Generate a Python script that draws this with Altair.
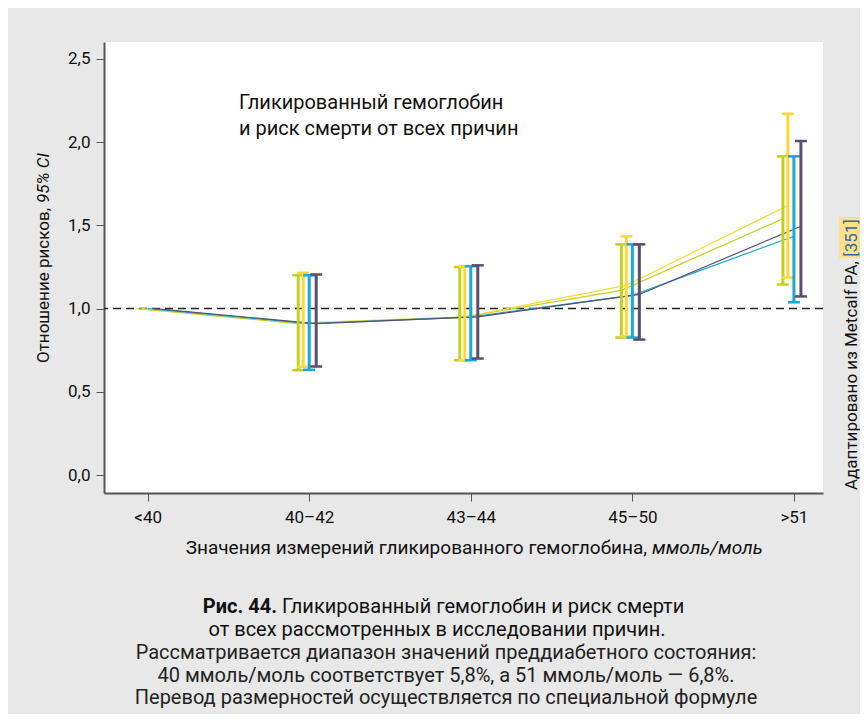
import altair as alt
import pandas as pd

# ---- data ----
categories = ["<40", "40–42", "43–44", "45–50", ">51"]
series_names = ["Серия 1", "Серия 2", "Серия 3", "Серия 4"]

hr_s1 = [1.0, 0.91, 0.945, 1.11, 1.54]
hr_s2 = [1.0, 0.915, 0.95, 1.14, 1.62]
hr_s3 = [1.0, 0.91, 0.95, 1.08, 1.435]
hr_s4 = [1.0, 0.91, 0.95, 1.085, 1.495]

lo_s1 = [None, 0.63, 0.69, 0.826, 1.145]
hi_s1 = [None, 1.20, 1.25, 1.386, 1.915]
lo_s2 = [None, 0.65, 0.69, 0.834, 1.187]
hi_s2 = [None, 1.215, 1.255, 1.434, 2.171]
lo_s3 = [None, 0.632, 0.69, 0.826, 1.038]
hi_s3 = [None, 1.20, 1.255, 1.386, 1.915]
lo_s4 = [None, 0.652, 0.70, 0.814, 1.073]
hi_s4 = [None, 1.205, 1.26, 1.386, 2.007]

y_ticks = [0.0, 0.5, 1.0, 1.5, 2.0, 2.5]

# ---- styling ----
colors = ["#c3d01c", "#fdd835", "#14a9d8", "#5a4e6c"]
offsets = [-11, -6, 0, 7]
FONT = "Roboto"
BG = "#e8e8e8"

rows = []
for name, hr, lo, hi in zip(series_names,
                            [hr_s1, hr_s2, hr_s3, hr_s4],
                            [lo_s1, lo_s2, lo_s3, lo_s4],
                            [hi_s1, hi_s2, hi_s3, hi_s4]):
    for i, c in enumerate(categories):
        rows.append({"idx": i, "cat": c, "series": name,
                     "hr": hr[i], "lo": lo[i], "hi": hi[i]})
df = pd.DataFrame(rows)

label_expr = "[" + ",".join("'" + c + "'" for c in categories) + "][datum.value]"

x_enc = alt.X("idx:Q",
              scale=alt.Scale(domain=[-0.27, 4.18], nice=False, zero=False),
              axis=alt.Axis(values=list(range(len(categories))), labelExpr=label_expr,
                            title=None, grid=False, domainColor="#555", domainWidth=2,
                            tickColor="#555", tickSize=8, labelFont=FONT, labelFontSize=17,
                            labelColor="#111", labelPadding=8))
y_scale = alt.Scale(domain=[-0.108, 2.602], nice=False, zero=False)
y_axis = alt.Axis(values=y_ticks,
                  labelExpr="replace(format(datum.value, '.1f'), '.', ',')",
                  title=None, grid=False, domainColor="#555", domainWidth=2,
                  tickColor="#555", tickSize=8, labelFont=FONT, labelFontSize=17,
                  labelColor="#111", labelPadding=6)

base = alt.Chart(df)

layers = []
# reference line at 1.0
layers.append(
    alt.Chart(pd.DataFrame({"v": [1.0]})).mark_rule(
        color="#222", strokeDash=[8, 5], strokeWidth=1.5
    ).encode(y=alt.Y("v:Q", scale=y_scale, axis=y_axis))
)

for name, col, off in zip(series_names, colors, offsets):
    s = base.transform_filter(alt.datum.series == name)
    layers.append(s.mark_line(color=col, strokeWidth=1.2, xOffset=off).encode(
        x=x_enc, y=alt.Y("hr:Q", scale=y_scale, axis=y_axis)))
for name, col, off in zip(series_names, colors, offsets):
    s = base.transform_filter((alt.datum.series == name) & alt.expr.isValid(alt.datum.lo))
    layers.append(s.mark_rule(color=col, strokeWidth=3, xOffset=off).encode(
        x=x_enc, y=alt.Y("lo:Q", scale=y_scale, axis=y_axis), y2="hi:Q"))
    layers.append(s.mark_tick(color=col, orient="horizontal", size=12, thickness=2.5,
                              xOffset=off, opacity=1).encode(
        x=x_enc, y=alt.Y("lo:Q", scale=y_scale, axis=y_axis)))
    layers.append(s.mark_tick(color=col, orient="horizontal", size=12, thickness=2.5,
                              xOffset=off, opacity=1).encode(
        x=x_enc, y=alt.Y("hi:Q", scale=y_scale, axis=y_axis)))

one = pd.DataFrame({"a": [0]})


def txt(text, x, y, size=17, align="left", baseline="alphabetic", angle=0,
        style="normal", weight="normal", color="#111"):
    return alt.Chart(one).mark_text(
        text=text, align=align, baseline=baseline, angle=angle, font=FONT,
        fontSize=size, fontStyle=style, fontWeight=weight, color=color
    ).encode(x=alt.value(x), y=alt.value(y))


# in-plot title
layers.append(txt("Гликированный гемоглобин", 135, 67, size=20))
layers.append(txt("и риск смерти от всех причин", 135, 93, size=20))

# y axis title (rotated, mixed style)
layers.append(txt("Отношение рисков,", -60, 166, size=17, angle=270, baseline="middle",
                  align="right"))
layers.append(txt("95% CI", -60, 111, size=17, angle=270, baseline="middle",
                  align="right", style="italic"))

# x axis title (mixed style)
layers.append(txt("Значения измерений гликированного гемоглобина,", 543, 506, size=19,
                  align="right", baseline="middle"))
layers.append(txt("ммоль/моль", 548, 506, size=19, align="left", baseline="middle",
                  style="italic"))

# source note on the right
layers.append(alt.Chart(one).mark_rect(color="#ffe08a").encode(
    x=alt.value(735), x2=alt.value(756), y=alt.value(175), y2=alt.value(216)))
layers.append(txt("Адаптировано из Metcalf PA,", 748, 448, size=17, angle=270,
                  baseline="middle"))
layers.append(txt("[351]", 748, 196, size=17, angle=270, baseline="middle",
                  align="center", color="#2f6aa8"))

# caption
layers.append(txt("Рис. 44.", 173, 565, size=20, align="right", baseline="middle",
                  weight="bold"))
layers.append(txt("Гликированный гемоглобин и риск смерти", 178, 565, size=20,
                  align="left", baseline="middle"))
layers.append(txt("от всех рассмотренных в исследовании причин.", 333, 588, size=20,
                  align="center", baseline="middle"))
layers.append(txt("Рассматривается диапазон значений преддиабетного состояния:", 342, 611,
                  size=20, align="center", baseline="middle", color="#222"))
layers.append(txt("40 ммоль/моль соответствует 5,8%, а 51 ммоль/моль — 6,8%.", 342, 634,
                  size=20, align="center", baseline="middle", color="#222"))
layers.append(txt("Перевод размерностей осуществляется по специальной формуле", 342, 656,
                  size=20, align="center", baseline="middle", color="#222"))

chart = alt.layer(*layers).properties(
    width=719, height=451,
    autosize=alt.AutoSizeParams(type="none"),
    padding={"left": 96, "top": 34, "right": 37, "bottom": 221},
    background=BG,
).configure_view(fill="white", stroke=None)

chart.save("out.html", embed_options={"renderer": "svg", "actions": False})
